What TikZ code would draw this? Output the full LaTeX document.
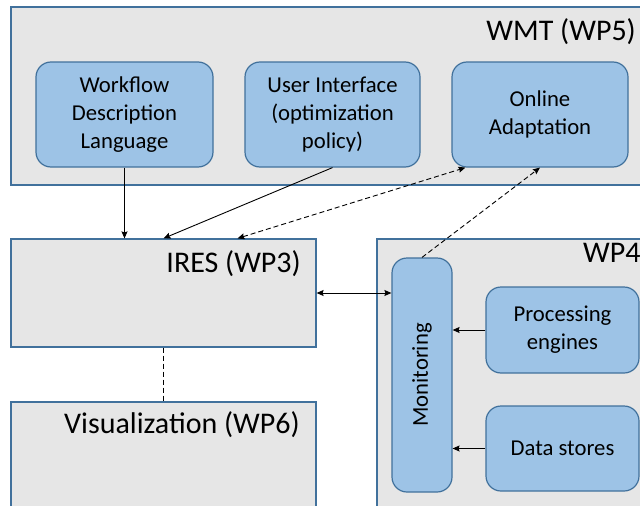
\documentclass[tikz,border=0pt]{standalone}
\usepackage{fontspec}
\setmainfont{Carlito}
\usetikzlibrary{arrows.meta,calc}
\definecolor{bord}{HTML}{41719C}
\definecolor{greyfill}{HTML}{E6E6E6}
\definecolor{bluefill}{HTML}{9DC3E6}
\tikzset{
  grp/.style={draw=bord, fill=greyfill, line width=1.2pt, rectangle, inner sep=0pt},
  blk/.style={draw=bord, fill=bluefill, line width=1.2pt, rounded corners=15pt,
    rectangle, inner sep=0pt, align=center, font=\fontsize{22.7}{28}\selectfont},
  biglabel/.style={font=\fontsize{30}{36}\selectfont, inner sep=0pt},
  conn/.style={line width=0.9pt, -{Stealth[length=7pt,width=6pt,inset=1pt]}},
  dconn/.style={conn, dash pattern=on 5pt off 3pt},
}
\begin{document}
\begin{tikzpicture}[x=1pt, y=-1pt]
\useasboundingbox (0,0) rectangle (640,506);
\clip (0,0) rectangle (640,506);
\fill[white] (0,0) rectangle (640,506);

% group containers
\node[grp, minimum width=669pt, minimum height=178pt] (wmt) at (345.5,96) {};
\node[grp, minimum width=305pt, minimum height=108pt] (ires) at (163.5,293) {};
\node[grp, minimum width=305pt, minimum height=150pt] (vis) at (163.5,477) {};
\node[grp, minimum width=300pt, minimum height=300pt] (wp4) at (527,389) {};

% group titles
\node[biglabel, anchor=base east] (wmtlbl) at (636,40) {WMT (WP5)};
\node[biglabel, anchor=base east] (ireslbl) at (301,272) {IRES (WP3)};
\node[biglabel, anchor=base east] (vislbl) at (300,433) {Visualization (WP6)};
\node[biglabel, anchor=base west] (wp4lbl) at (583,262) {WP4};

% workflow management components
\node[blk, minimum width=177pt, minimum height=105pt] (wdl) at (124.5,114.5)
  {Workflow\\Description\\Language};
\node[blk, minimum width=175pt, minimum height=105pt] (ui) at (332.5,114.5)
  {User Interface\\(optimization\\policy)};
\node[blk, minimum width=176pt, minimum height=105pt] (oa) at (540,114.5)
  {Online\\Adaptation};

% WP4 components
\node[blk, minimum width=60pt, minimum height=234pt] (mon) at (422,375)
  {\rotatebox{90}{Monitoring}};
\node[blk, minimum width=153pt, minimum height=86pt] (pe) at (562.5,330)
  {Processing\\engines};
\node[blk, minimum width=153pt, minimum height=85pt] (ds) at (562.5,448.5)
  {Data stores};

% connectors
\draw[conn] (wdl.south) -- (wdl.south |- ires.north);
\draw[conn] (ui.south) -- (ires.north);
\draw[dconn, {Stealth[length=7pt,width=6pt,inset=1pt]}-{Stealth[length=7pt,width=6pt,inset=1pt]}]
  ([xshift=74pt]ires.north) -- ([xshift=14pt]oa.south west);
\draw[dconn] (mon.north) -- (oa.south);
\draw[conn, {Stealth[length=7pt,width=6pt,inset=1pt]}-{Stealth[length=7pt,width=6pt,inset=1pt]}]
  (ires.east) -- (ires.east -| mon.west);
\draw[line width=0.9pt, dash pattern=on 5pt off 3pt] (ires.south) -- (vis.north);
\draw[conn] (pe.west) -- (pe.west -| mon.east);
\draw[conn] (ds.west) -- (ds.west -| mon.east);
\end{tikzpicture}
\end{document}
